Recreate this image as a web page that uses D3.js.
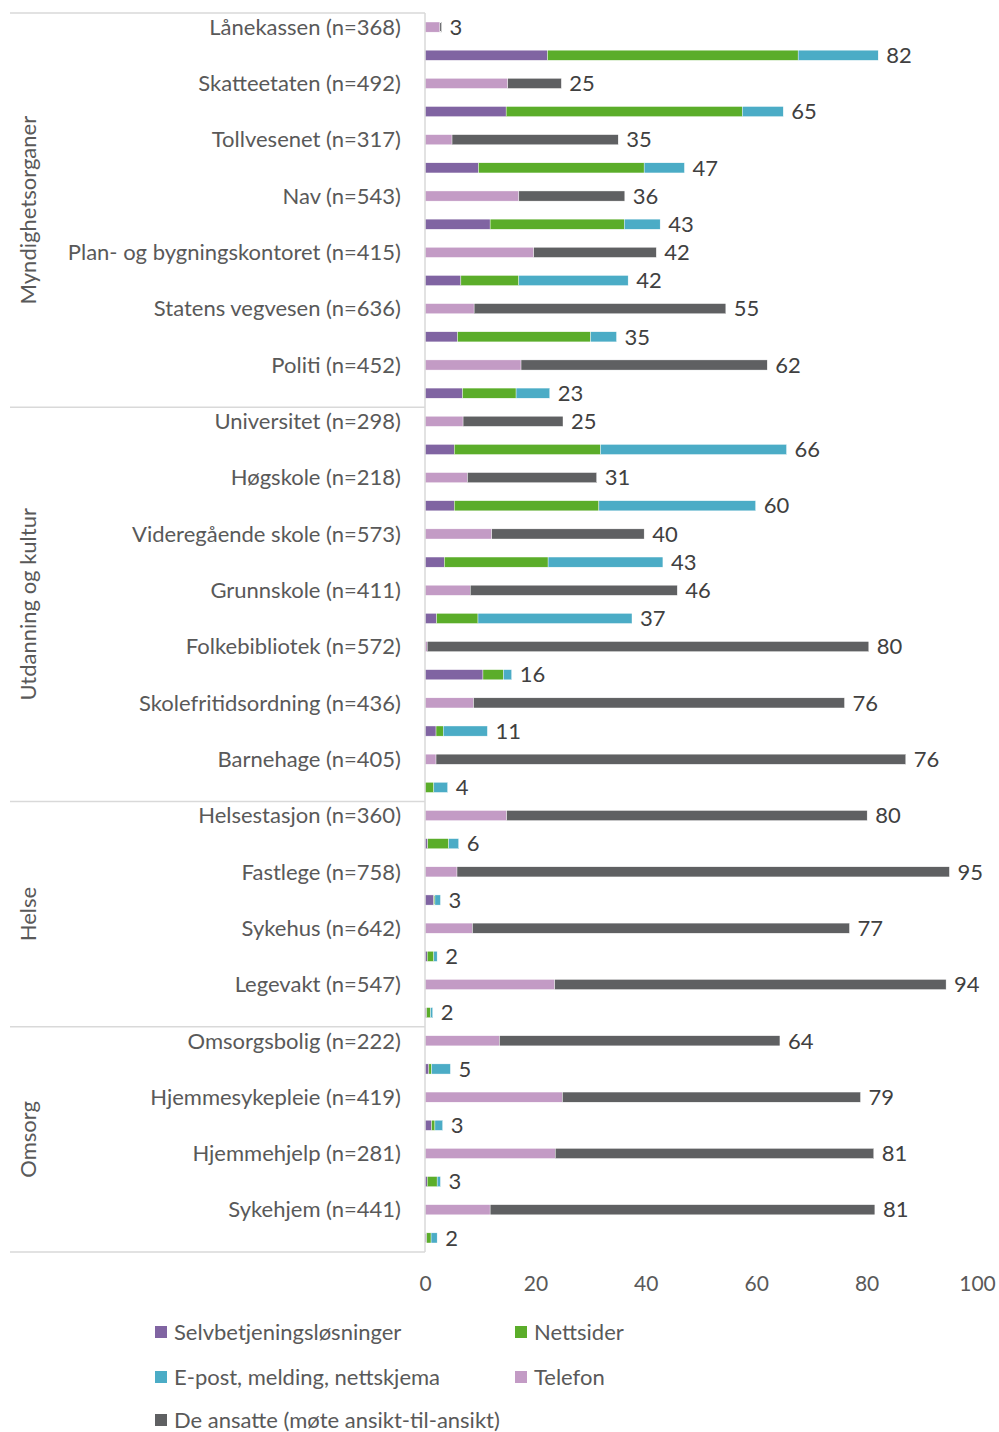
<!DOCTYPE html>
<html lang="no">
<head>
  <meta charset="utf-8">
  <title>Kontaktkanaler per tjeneste</title>
  <style>
body {
  margin: 0;
  background: #fff;
  font-family: Lato, "Open Sans", sans-serif;
}
text {
  fill: #595959;
}
.val {
  fill: #404040;
}
  </style>
  <script src="https://d3js.org/d3.v7.min.js"></script>
</head>
<body>
<div id="chart"></div>

<script>

var categories = [
  'Lånekassen (n=368)', 'Skatteetaten (n=492)', 'Tollvesenet (n=317)', 'Nav (n=543)',
  'Plan- og bygningskontoret (n=415)', 'Statens vegvesen (n=636)', 'Politi (n=452)',
  'Universitet (n=298)', 'Høgskole (n=218)', 'Videregående skole (n=573)', 'Grunnskole (n=411)',
  'Folkebibliotek (n=572)', 'Skolefritidsordning (n=436)', 'Barnehage (n=405)',
  'Helsestasjon (n=360)', 'Fastlege (n=758)', 'Sykehus (n=642)', 'Legevakt (n=547)',
  'Omsorgsbolig (n=222)', 'Hjemmesykepleie (n=419)', 'Hjemmehjelp (n=281)', 'Sykehjem (n=441)'
];

var groupNames = ['Myndighetsorganer', 'Utdanning og kultur', 'Helse', 'Omsorg'];
var groupSizes = [7, 7, 4, 4];

// digital channels (lower bar)
var selvbetjening = [22.2, 14.7, 9.7, 11.8, 6.5, 5.9, 6.8, 5.3, 5.3, 3.5, 2.1, 10.5, 2.0, 0, 0.5, 1.6, 0.4, 0.3, 0.7, 1.2, 0.4, 0.3];
var nettsider     = [45.4, 42.8, 30.0, 24.3, 10.5, 24.1, 9.7, 26.5, 26.2, 18.8, 7.5, 3.7, 1.3, 1.6, 3.8, 0.2, 1.2, 0.7, 0.5, 0.6, 1.8, 0.8];
var epost         = [14.5, 7.4, 7.3, 6.5, 19.8, 4.7, 6.1, 33.7, 28.4, 20.8, 27.9, 1.5, 8.0, 2.5, 1.8, 1.0, 0.6, 0.4, 3.4, 1.4, 0.6, 1.1];
// personal channels (upper bar)
var telefon       = [2.7, 15.0, 4.9, 17.0, 19.7, 8.9, 17.4, 6.9, 7.7, 12.1, 8.2, 0.4, 8.8, 2.0, 14.8, 5.8, 8.6, 23.5, 13.5, 24.9, 23.6, 11.8];
var ansatte       = [0.3, 9.7, 30.1, 19.2, 22.2, 45.6, 44.6, 18.1, 23.4, 27.6, 37.5, 80.0, 67.2, 85.1, 65.3, 89.2, 68.3, 70.9, 50.8, 54.0, 57.7, 69.7];

var labelPersonal = [3, 25, 35, 36, 42, 55, 62, 25, 31, 40, 46, 80, 76, 76, 80, 95, 77, 94, 64, 79, 81, 81];
var labelDigital  = [82, 65, 47, 43, 42, 35, 23, 66, 60, 43, 37, 16, 11, 4, 6, 3, 2, 2, 5, 3, 3, 2];

var xTicks = [0, 20, 40, 60, 80, 100];

var seriesNames = ['Selvbetjeningsløsninger', 'Nettsider', 'E-post, melding, nettskjema', 'Telefon', 'De ansatte (møte ansikt-til-ansikt)'];
var seriesColors = ['#8064a2', '#5bad2a', '#4bacc6', '#c39bc5', '#5f6062'];

var w = 999, h = 1432;
var plotLeft = 425, plotRight = 977, plotTop = 13, plotBottom = 1252;
var fs = 22;

var svg = d3.select('#chart').append('svg')
  .attr('width', w)
  .attr('height', h);

var x = d3.scaleLinear().domain([0, 100]).range([plotLeft, plotRight]);

// two bars per category: personal on top, digital under it
var rowKeys = [];
categories.forEach(function(c, i) { rowKeys.push(i + '-p', i + '-d'); });

var y = d3.scaleBand()
  .domain(rowKeys)
  .range([plotTop, plotBottom])
  .paddingInner(0.64)
  .paddingOuter(0.32);

var step = y.step();

// build stacked rows
var rows = [];
categories.forEach(function(c, i) {
  var dig = [selvbetjening[i], nettsider[i], epost[i]];
  var per = [telefon[i], ansatte[i]];
  var acc = 0;
  var segs = per.map(function(v, j) {
    var s = { x0: acc, x1: acc + v, color: seriesColors[3 + j] }; acc += v; return s;
  });
  rows.push({ key: i + '-p', label: labelPersonal[i], segs: segs, total: acc });
  acc = 0;
  segs = dig.map(function(v, j) {
    var s = { x0: acc, x1: acc + v, color: seriesColors[j] }; acc += v; return s;
  });
  rows.push({ key: i + '-d', label: labelDigital[i], segs: segs, total: acc });
});

var bars = svg.append('g');
rows.forEach(function(r) {
  bars.selectAll(null)
    .data(r.segs.filter(function(s) { return s.x1 > s.x0; }))
    .enter().append('rect')
    .attr('x', function(s) { return x(s.x0); })
    .attr('width', function(s) { return x(s.x1) - x(s.x0); })
    .attr('y', y(r.key))
    .attr('height', y.bandwidth())
    .attr('fill', function(s) { return s.color; })
    .attr('stroke', '#fff')
    .attr('stroke-width', 0.4);

  bars.append('text')
    .attr('class', 'val')
    .attr('x', x(r.total) + 8)
    .attr('y', y(r.key) + y.bandwidth() / 2)
    .attr('dy', '0.35em')
    .attr('font-size', fs)
    .text(r.label);
});

// category labels next to the upper bar
svg.append('g').selectAll('text')
  .data(categories)
  .enter().append('text')
  .attr('x', 401)
  .attr('y', function(d, i) { return y(i + '-p') + y.bandwidth() / 2; })
  .attr('dy', '0.35em')
  .attr('text-anchor', 'end')
  .attr('font-size', fs)
  .text(function(d) { return d; });

// group separators and group labels
var starts = [0];
groupSizes.forEach(function(g, i) { starts.push(starts[i] + g); });

svg.append('g').selectAll('line')
  .data(starts)
  .enter().append('line')
  .attr('x1', 10)
  .attr('x2', plotLeft)
  .attr('y1', function(s) { return plotTop + s * 2 * step; })
  .attr('y2', function(s) { return plotTop + s * 2 * step; })
  .attr('stroke', '#d9d9d9')
  .attr('stroke-width', 1.5);

svg.append('line')
  .attr('x1', plotLeft).attr('x2', plotLeft)
  .attr('y1', plotTop).attr('y2', plotBottom)
  .attr('stroke', '#d9d9d9')
  .attr('stroke-width', 1.5);

svg.append('g').selectAll('text')
  .data(groupNames)
  .enter().append('text')
  .attr('transform', function(d, i) {
    var cy = plotTop + (starts[i] + groupSizes[i] / 2) * 2 * step;
    return 'translate(28,' + cy + ') rotate(-90)';
  })
  .attr('text-anchor', 'middle')
  .attr('dy', '0.35em')
  .attr('font-size', fs)
  .text(function(d) { return d; });

// x axis
var xAxis = d3.axisBottom(x).tickValues(xTicks).tickSize(0).tickPadding(0);
var ax = svg.append('g')
  .attr('transform', 'translate(0,1284)')
  .call(xAxis);
ax.select('.domain').remove();
ax.selectAll('text')
  .attr('dy', '0.35em')
  .attr('font-size', 21)
  .attr('font-family', 'Lato, "Open Sans", sans-serif')
  .style('fill', '#595959');

// legend
var legendPos = [[155, 1332], [515, 1332], [155, 1377], [515, 1377], [155, 1420]];
var legend = svg.append('g').selectAll('g')
  .data(seriesNames)
  .enter().append('g')
  .attr('transform', function(d, i) { return 'translate(' + legendPos[i][0] + ',' + legendPos[i][1] + ')'; });

legend.append('rect')
  .attr('x', 0).attr('y', -6)
  .attr('width', 12).attr('height', 12)
  .attr('fill', function(d, i) { return seriesColors[i]; });

legend.append('text')
  .attr('x', 19)
  .attr('dy', '0.35em')
  .attr('font-size', fs)
  .text(function(d) { return d; });

</script>
</body>
</html>
